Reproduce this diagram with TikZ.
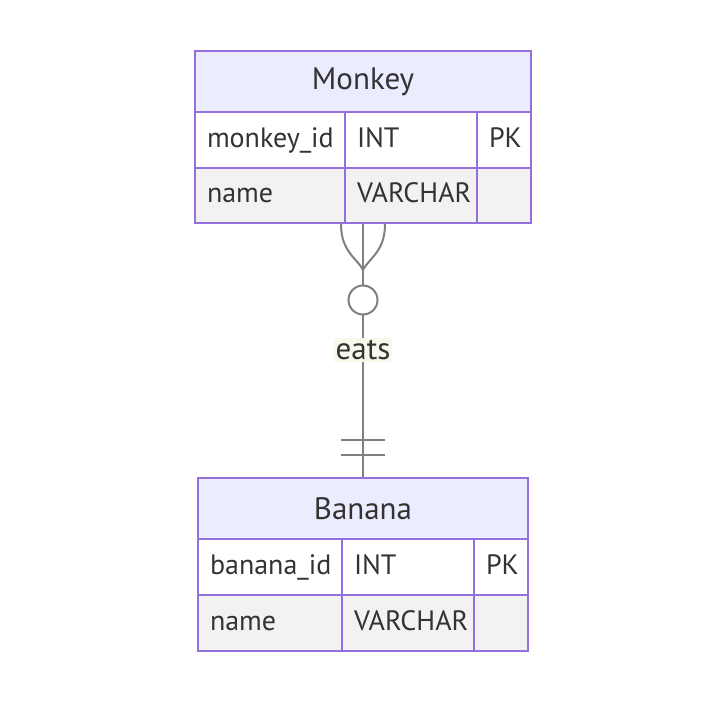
\documentclass[tikz,border=0pt]{standalone}
\usepackage{fontspec}
\setmainfont{PT Sans}
\usetikzlibrary{positioning}
\definecolor{erborder}{RGB}{147,112,219}
\definecolor{erhead}{RGB}{236,236,255}
\definecolor{errow}{RGB}{242,242,242}
\definecolor{ertext}{RGB}{51,51,51}
\definecolor{erline}{RGB}{128,128,128}
\definecolor{erlabel}{RGB}{247,249,235}

\begin{document}
\begin{tikzpicture}[x=1pt, y=-1pt,
    every node/.style={font=\fontsize{28}{32}\selectfont, text=ertext},
    head/.style={rectangle, draw=erborder, fill=erhead, line width=2pt, minimum height=61pt, font=\fontsize{31}{36}\selectfont},
    cell/.style={rectangle, draw=erborder, line width=2pt, minimum height=56pt, inner xsep=12pt, align=left, text height=20pt, text depth=6pt},
    odd/.style={cell, fill=white},
    even/.style={cell, fill=errow},
    rel/.style={draw=erline, line width=2pt},
]
\useasboundingbox (0,0) rectangle (726,702);

% Monkey
\node[head, minimum width=336pt] (mkH) at (363,81.5) {Monkey};
\node[odd, text width=126pt] (m11) at (270,140) {monkey\_id};
\node[odd, text width=108pt] (m12) at (411,140) {INT};
\node[odd, text width=30pt] (m13) at (504,140) {PK};
\node[even, text width=126pt, minimum height=55pt] (m21) at (270,195.5) {name};
\node[even, text width=108pt, minimum height=55pt] (m22) at (411,195.5) {VARCHAR};
\node[even, text width=30pt, minimum height=55pt] (m23) at (504,195.5) {};

% Banana
\node[head, minimum width=330pt] (bnH) at (363,508.5) {Banana};
\node[odd, text width=120pt] (b11) at (270,567) {banana\_id};
\node[odd, text width=108pt] (b12) at (408,567) {INT};
\node[odd, text width=30pt] (b13) at (501,567) {PK};
\node[even, text width=120pt] (b21) at (270,623) {name};
\node[even, text width=108pt] (b22) at (408,623) {VARCHAR};
\node[even, text width=30pt] (b23) at (501,623) {};

% relation
\coordinate (mkB) at (m21.south -| mkH.center);
\coordinate (tip) at (363,270);
\draw[rel] (mkB) -- (bnH.north);
\draw[rel] (mkB) ++(-22,0) .. controls +(0,28) and +(-6,-12) .. (tip);
\draw[rel] (mkB) ++(22,0) .. controls +(0,28) and +(6,-12) .. (tip);
\node[circle, draw=erline, fill=white, line width=2pt, minimum size=29pt, inner sep=0pt] (zero) at (363,300) {};
\draw[rel] ([xshift=-22pt]bnH.north |- 0,440) -- ([xshift=22pt]bnH.north |- 0,440);
\draw[rel] ([xshift=-22pt]bnH.north |- 0,455) -- ([xshift=22pt]bnH.north |- 0,455);
\node[fill=erlabel, inner sep=2pt, font=\fontsize{31}{36}\selectfont] (eats) at (363,350) {eats};
\end{tikzpicture}
\end{document}
